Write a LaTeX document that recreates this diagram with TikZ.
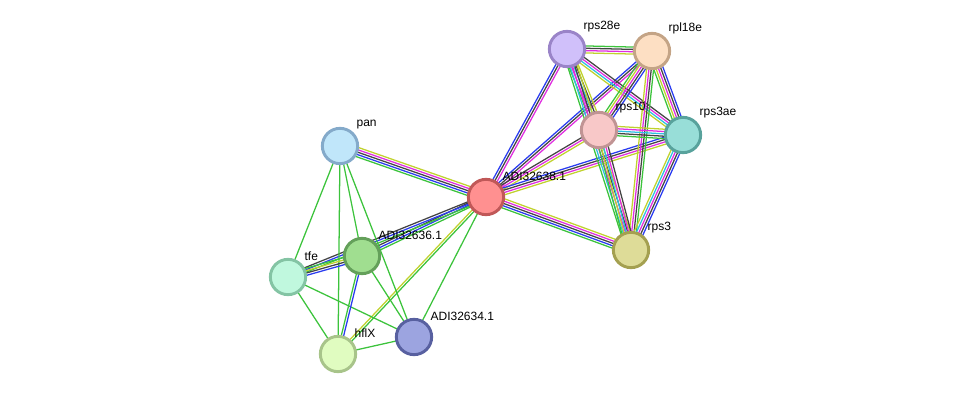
\documentclass[tikz,border=0pt]{standalone}
\usepackage{fontspec}
\setmainfont{Liberation Sans}
\usetikzlibrary{calc,backgrounds}

\definecolor{evGreen}{HTML}{3CC33C}
\definecolor{evBlue}{HTML}{2A3CF0}
\definecolor{evBlack}{HTML}{444444}
\definecolor{evPink}{HTML}{E02EE0}
\definecolor{evCyan}{HTML}{2EC0E0}
\definecolor{evYellow}{HTML}{C0D22E}

\newcommand{\bundle}[3]{%
  \foreach \ec [count=\ei] in {#3} {\xdef\ecount{\ei}}%
  \foreach \ec [count=\ei] in {#3} {%
    \pgfmathsetmacro{\eoff}{(\ei-(\ecount+1)/2)*1.75}%
    \draw[edge, \ec] ($(#1.center)!\eoff pt!-90:(#2.center)$) -- ($(#2.center)!\eoff pt!90:(#1.center)$);%
  }%
}

\begin{document}
\begin{tikzpicture}[
    x=0.75pt, y=-0.75pt,
    prot/.style={circle, draw, line width=2.2pt, minimum size=26.5pt, inner sep=0pt},
    lbl/.style={font=\fontsize{9}{10}\selectfont, inner sep=0pt, label distance=3pt},
    edge/.style={line width=0.95pt}
  ]
    \useasboundingbox (0,0) rectangle (975,400);

    \node[prot, fill={rgb,255:red,208;green,192;blue,250}, draw={rgb,255:red,154;green,132;blue,200}, label={[lbl]45:rps28e}] (rps28e) at (567,49) {};
    \node[prot, fill={rgb,255:red,253;green,223;blue,195}, draw={rgb,255:red,196;green,164;blue,134}, label={[lbl]45:rpl18e}] (rpl18e) at (652,51) {};
    \node[prot, fill={rgb,255:red,248;green,200;blue,200}, draw={rgb,255:red,192;green,148;blue,148}, label={[lbl]45:rps10}] (rps10) at (599,130) {};
    \node[prot, fill={rgb,255:red,152;green,222;blue,216}, draw={rgb,255:red,88;green,162;blue,156}, label={[lbl]45:rps3ae}] (rps3ae) at (683,135) {};
    \node[prot, fill={rgb,255:red,255;green,144;blue,144}, draw={rgb,255:red,192;green,88;blue,88}, label={[lbl]45:ADI32638.1}] (a38) at (486,197) {};
    \node[prot, fill={rgb,255:red,222;green,220;blue,152}, draw={rgb,255:red,164;green,160;blue,80}, label={[lbl]45:rps3}] (rps3) at (631,250) {};
    \node[prot, fill={rgb,255:red,192;green,230;blue,250}, draw={rgb,255:red,132;green,170;blue,202}, label={[lbl]45:pan}] (pan) at (340,146) {};
    \node[prot, fill={rgb,255:red,160;green,222;blue,144}, draw={rgb,255:red,100;green,160;blue,90}, label={[lbl]45:ADI32636.1}] (a36) at (362,256) {};
    \node[prot, fill={rgb,255:red,192;green,248;blue,222}, draw={rgb,255:red,132;green,196;blue,164}, label={[lbl]45:tfe}] (tfe) at (288,277) {};
    \node[prot, fill={rgb,255:red,156;green,164;blue,224}, draw={rgb,255:red,88;green,96;blue,160}, label={[lbl]45:ADI32634.1}] (a34) at (414,337) {};
    \node[prot, fill={rgb,255:red,224;green,252;blue,192}, draw={rgb,255:red,168;green,196;blue,138}, label={[lbl]45:hflX}] (hflx) at (338,354) {};

    \begin{pgfonlayer}{background}
    \bundle{pan}{a38}{evYellow,evPink,evBlack,evBlue,evGreen}
    \bundle{a38}{rps3}{evYellow,evPink,evBlack,evBlue,evGreen}
    \bundle{a38}{rps28e}{evBlue,evBlack,evPink}
    \bundle{a38}{rpl18e}{evBlue,evBlack,evPink}
    \bundle{a38}{rps10}{evBlack,evPink,evYellow}
    \bundle{a38}{rps3ae}{evBlue,evBlack,evPink,evYellow}
    \bundle{a38}{a36}{evGreen,evBlue,evBlack}
    \bundle{a38}{tfe}{evGreen,evBlue,evBlack}
    \bundle{a38}{hflx}{evGreen,evYellow}
    \bundle{a38}{a34}{evGreen}
    \bundle{pan}{tfe}{evGreen}
    \bundle{pan}{hflx}{evGreen}
    \bundle{pan}{a36}{evGreen}
    \bundle{pan}{a34}{evGreen}
    \bundle{tfe}{a36}{evGreen,evYellow,evBlack,evBlue}
    \bundle{tfe}{hflx}{evGreen}
    \bundle{tfe}{a34}{evGreen}
    \bundle{a36}{hflx}{evBlue,evGreen}
    \bundle{a36}{a34}{evGreen}
    \bundle{hflx}{a34}{evGreen}
    \bundle{rps28e}{rpl18e}{evGreen,evBlack,evPink,evYellow}
    \bundle{rps28e}{rps10}{evYellow,evBlack,evCyan,evPink,evGreen}
    \bundle{rps28e}{rps3ae}{evBlack,evPink,evCyan,evYellow}
    \bundle{rps28e}{rps3}{evYellow,evBlack,evPink,evCyan,evGreen}
    \bundle{rpl18e}{rps10}{evBlue,evBlack,evPink,evYellow,evGreen}
    \bundle{rpl18e}{rps3ae}{evBlue,evBlack,evPink,evYellow,evGreen}
    \bundle{rpl18e}{rps3}{evGreen,evBlack,evPink,evYellow}
    \bundle{rps10}{rps3ae}{evYellow,evPink,evCyan,evBlack,evGreen}
    \bundle{rps10}{rps3}{evBlack,evPink,evCyan,evYellow,evGreen}
    \bundle{rps3ae}{rps3}{evBlue,evBlack,evPink,evCyan,evYellow}
    \end{pgfonlayer}
\end{tikzpicture}
\end{document}
